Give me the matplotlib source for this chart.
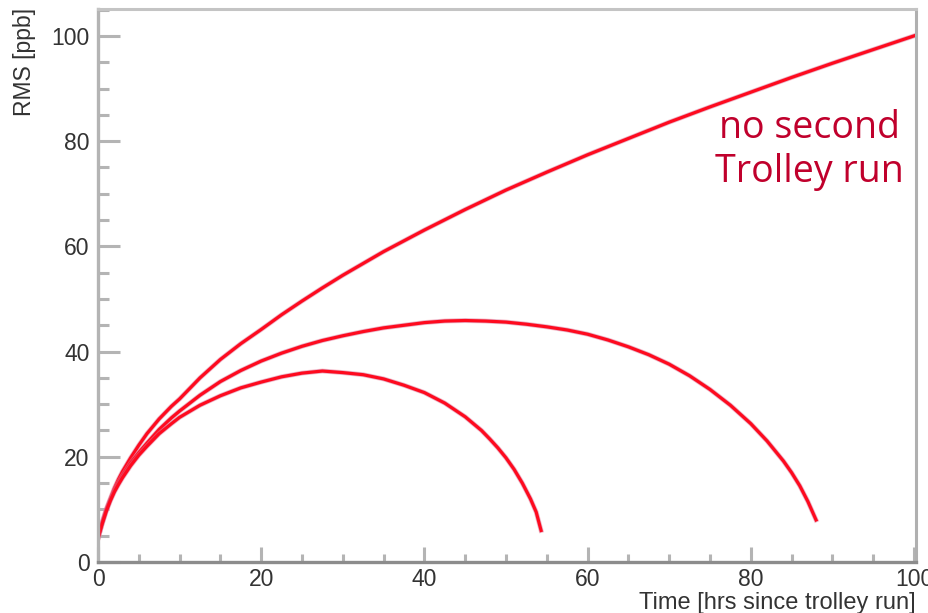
import matplotlib
matplotlib.use("Agg")
import matplotlib.pyplot as plt
from matplotlib.ticker import MultipleLocator

# RMS drift vs. time since the trolley run (three scenarios)
t_none = [0, 0.5, 1, 1.5, 2, 2.5, 3, 4, 5, 6, 7.5, 9, 10, 12.5, 15, 17.5, 20,
          22.5, 25, 27.5, 30, 35, 40, 45, 50, 55, 60, 65, 70, 75, 80, 85, 90,
          95, 100]
rms_none = [4.5, 7.5, 10.0, 12.0, 14.0, 15.7, 17.2, 19.8, 22.2, 24.4, 27.2, 29.6,
            31.0, 35.0, 38.5, 41.5, 44.2, 47.0, 49.6, 52.1, 54.5, 59.0, 63.1,
            67.0, 70.7, 74.1, 77.4, 80.5, 83.6, 86.5, 89.3, 92.1, 94.8, 97.4,
            100.0]

t_long = [0, 0.5, 1, 1.5, 2, 2.5, 3, 4, 5, 6, 7.5, 9, 10, 12.5, 15, 17.5, 20,
          22.5, 25, 27.5, 30, 32.5, 35, 37.5, 40, 42.5, 45, 47.5, 50, 52.5, 55,
          57.5, 60, 62.5, 65, 67.5, 70, 72.5, 75, 77.5, 80, 82, 84, 85, 86, 87,
          88]
rms_long = [4.5, 7.3, 9.8, 11.8, 13.6, 15.1, 16.4, 18.8, 20.8, 22.6, 25.2, 27.4,
            28.7, 31.7, 34.3, 36.4, 38.2, 39.7, 41.0, 42.1, 43.0, 43.8, 44.5,
            45.0, 45.5, 45.8, 45.9, 45.8, 45.6, 45.2, 44.7, 44.1, 43.3, 42.2,
            40.9, 39.4, 37.6, 35.4, 32.8, 29.8, 26.3, 23.0, 19.2, 17.0, 14.5,
            11.5, 8.0]

t_short = [0, 0.5, 1, 1.5, 2, 2.5, 3, 4, 5, 6, 7.5, 9, 10, 12.5, 15, 17.5, 20,
           22.5, 25, 27.5, 30, 32.5, 35, 37.5, 40, 42.5, 45, 47, 48, 49, 50, 51,
           52, 53, 53.7, 54.3]
rms_short = [4.5, 7.2, 9.6, 11.6, 13.3, 14.7, 16.0, 18.3, 20.3, 22.0, 24.4, 26.3,
             27.5, 29.8, 31.6, 33.1, 34.2, 35.2, 35.9, 36.3, 36.0, 35.6, 34.8,
             33.6, 32.2, 30.2, 27.6, 25.0, 23.4, 21.7, 19.8, 17.6, 15.0, 12.0,
             9.5, 6.0]

note = "no second\nTrolley run"

plt.rcParams['font.family'] = ['Liberation Sans', 'DejaVu Sans']

fig = plt.figure(figsize=(9.29, 6.13), dpi=100)
ax = fig.add_axes([0.1055, 0.0832, 0.8805, 0.902])

for t, r in [(t_none, rms_none), (t_long, rms_long), (t_short, rms_short)]:
    ax.plot(t, r, color='#ff8a9a', lw=3.6, alpha=0.45, solid_joinstyle='round')
    ax.plot(t, r, color='#3a3aa8', lw=3.0, alpha=0.18, solid_joinstyle='round')
    ax.plot(t, r, color='#ff0a1e', lw=2.3, solid_joinstyle='round')

ax.set_xlim(0, 100.25)
ax.set_ylim(0, 105.1)

ax.xaxis.set_major_locator(MultipleLocator(20))
ax.xaxis.set_minor_locator(MultipleLocator(5))
ax.yaxis.set_major_locator(MultipleLocator(20))
ax.yaxis.set_minor_locator(MultipleLocator(5))

ax.tick_params(axis='both', which='both', direction='in', colors='#b4b4b4',
               labelcolor='#333333', labelsize=16.5, width=2.2)
ax.tick_params(axis='y', which='major', length=16, pad=6)
ax.tick_params(axis='y', which='minor', length=8)
ax.tick_params(axis='x', which='major', length=11, pad=4)
ax.tick_params(axis='x', which='minor', length=6)
ax.tick_params(top=False, right=False)

ax.spines['left'].set_color('#b4b4b4')
ax.spines['left'].set_linewidth(2.4)
ax.spines['bottom'].set_color('#8c8c8c')
ax.spines['bottom'].set_linewidth(2.4)
ax.spines['top'].set_color('#c4c4c4')
ax.spines['top'].set_linewidth(2.2)
ax.spines['right'].set_color('#b0b0b0')
ax.spines['right'].set_linewidth(2.2)

# axis titles sit ROOT-style at the far ends of the axes
fig.text(916 / 929, 10 / 613, 'Time [hrs since trolley run]', fontsize=17,
         color='#333333', ha='right', va='center')
fig.text(25 / 929, 1 - 8 / 613, 'RMS [ppb]', fontsize=16.5, color='#333333',
         rotation=90, ha='center', va='top')

ax.text(0.87, 0.745, note, transform=ax.transAxes, ha='center', va='center',
        fontsize=27, color='#c0002c', family=['Open Sans', 'DejaVu Sans'],
        linespacing=1.2)

fig.savefig('out.png', dpi=100)
